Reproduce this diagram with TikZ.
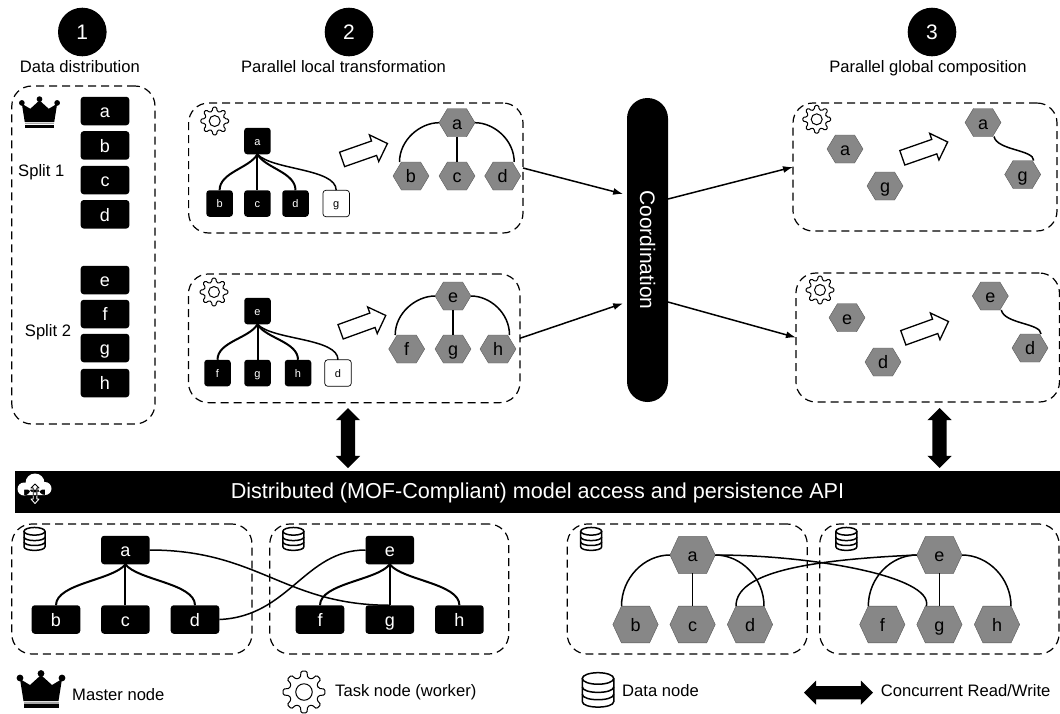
\documentclass[tikz,border=0pt]{standalone}
\usepackage{fontspec}
\setmainfont{Liberation Sans}
\usetikzlibrary{arrows.meta,calc,positioning,shapes.arrows,shapes.symbols}
\tikzset{>={Latex[length=10pt,width=7pt]}}
\tikzset{region/.style={draw,dash pattern=on 8pt off 5pt,line width=1.2pt,rounded corners=20pt,outer sep=0pt}}
\tikzset{datablock/.style={fill=black,text=white,rounded corners=3pt,minimum width=48.6pt,minimum height=28.5pt,inner sep=0pt,outer sep=0pt,text height=13.5pt,text depth=0pt,font=\fontsize{18}{20}\selectfont}}
\tikzset{miniblock/.style={fill=black,text=white,rounded corners=3pt,minimum width=26.5pt,minimum height=26.5pt,inner sep=0pt,outer sep=0pt,text height=8pt,text depth=0pt,font=\fontsize{11}{13}\selectfont}}
\tikzset{hexsmall/.style={shape=signal,signal to=west and east,signal pointer angle=118,draw=black!65,fill=black!47,minimum width=36pt,minimum height=28pt,inner sep=0pt,outer sep=0pt,text height=13pt,text depth=0pt,font=\fontsize{18}{20}\selectfont}}
\tikzset{hexlarge/.style={shape=signal,signal to=west and east,signal pointer angle=130,draw=black!65,fill=black!47,minimum width=45.3pt,minimum height=36.8pt,inner sep=0pt,outer sep=0pt,text height=13pt,text depth=0pt,font=\fontsize{18}{20}\selectfont}}
\tikzset{stepcircle/.style={circle,fill=black,text=white,minimum size=48.6pt,inner sep=0pt,font=\fontsize{21}{24}\selectfont}}
\tikzset{caption/.style={inner sep=0pt,text height=12pt,text depth=3.5pt,font=\fontsize{16.6}{20}\selectfont}}
\tikzset{hollowarrow/.style={shape=single arrow,draw,fill=white,line width=1.3pt,anchor=tail,minimum height=48pt,single arrow head extend=6.5pt,inner sep=7pt}}
\tikzset{rwarrow/.style={shape=double arrow,fill=black,inner sep=7pt,minimum height=60pt,double arrow head extend=5pt}}
\tikzset{heavyedge/.style={line width=2pt}}
\tikzset{lightedge/.style={line width=1.5pt}}
\tikzset{pics/gearicon/.style={code={
  \draw[line width=1pt,rounded corners=1.2pt,fill=white] (-14:10) \foreach \a in {0,45,...,315} { -- (\a-8:14) -- (\a+8:14) -- (\a+14:10) -- (\a+31:10) } -- cycle;
  \draw[line width=1pt] (0,0) circle (5.5);
}}}
\tikzset{pics/crownicon/.style={code={
  \fill (-21,-11) -- (-11,-5) -- (0,-15) -- (11,-5) -- (21,-11) -- (17.5,11) -- (-17.5,11) -- cycle;
  \fill (-21,-12) circle (3.4);
  \fill (0,-16.5) circle (3.4);
  \fill (21,-12) circle (3.4);
  \fill[black!35] (-17.5,11.5) rectangle (17.5,13.5);
  \fill (-17.5,14) rectangle (17.5,18);
}}}
\tikzset{pics/dbicon/.style={code={
  \draw[line width=1.5pt,fill=white] (-15,-11) -- (-15,11) .. controls (-15,18) and (15,18) .. (15,11) -- (15,-11);
  \draw[line width=1.5pt] (0,-11) ellipse [x radius=15,y radius=5.5];
  \draw[line width=1.5pt] (-15,-3) .. controls (-15,4) and (15,4) .. (15,-3);
  \draw[line width=1.5pt] (-15,4) .. controls (-15,11) and (15,11) .. (15,4);
}}}
\begin{document}
\begin{tikzpicture}[x=1pt,y=-1pt]
  \useasboundingbox (0,0) rectangle (1060,713);

  \node[stepcircle] (one) at (82.3,32) {1};
  \node[stepcircle] (two) at (349,32) {2};
  \node[stepcircle] (three) at (932,32) {3};
  \node[caption] (onetext) at (79.8,67.75) {Data distribution};
  \node[caption] (twotext) at (343.5,67.75) {Parallel local transformation};
  \node[caption] (threetext) at (928,67.75) {Parallel global composition};

  \node[region,minimum width=143.2pt,minimum height=338pt] (splitbox) at (83.4,255) {};
  \node[region,minimum width=334.4pt,minimum height=130pt] (taska) at (355.8,168) {};
  \node[region,minimum width=331.5pt,minimum height=128.7pt] (taske) at (354.2,338.3) {};
  \node[region,minimum width=264pt,minimum height=128pt] (compa) at (925,167) {};
  \node[region,minimum width=263.5pt,minimum height=129pt] (compe) at (927.7,337.5) {};
  \node[region,minimum width=240.2pt,minimum height=130pt] (stora) at (131.9,589) {};
  \node[region,minimum width=239pt,minimum height=130pt] (storb) at (389.3,589) {};
  \node[region,minimum width=240pt,minimum height=130pt] (storc) at (687.2,589) {};
  \node[region,minimum width=239.3pt,minimum height=130pt] (stord) at (939.4,589) {};

  % split lists
  \foreach \n/\y in {a/111,b/145.4,c/180,d/214.3,e/280,f/314,g/348,h/383}
    \node[datablock] (s\n) at (105,\y) {\n};
  \pic[scale=0.84] (crownsplit) at (39.5,113) {crownicon};
  \node[caption] (splitone) at (41.3,172) {Split 1};
  \node[caption] (splittwo) at (48,331.75) {Split 2};

  % first local task
  \pic (geara) at (214.7,121) {gearicon};
  \node[miniblock] (la) at (257.4,141) {a};
  \node[miniblock] (lb) at (219.6,203.5) {b};
  \node[miniblock] (lc) at (257.4,203.5) {c};
  \node[miniblock] (ld) at (295.5,203.5) {d};
  \node[miniblock,draw=black,fill=white,text=black,line width=0.7pt] (lg) at (336.2,203.5) {g};
  \draw[heavyedge] (la.south) .. controls +(-8,14) and +(0,-18) .. (lb.north);
  \draw[heavyedge] (la.south) -- (lc.north);
  \draw[heavyedge] (la.south) .. controls +(8,14) and +(0,-18) .. (ld.north);
  \draw[lightedge] (la.south) .. controls +(15,16) and +(0,-22) .. (lg.north);
  \node[hollowarrow,rotate=19.3] (arrowa) at (341.5,159.6) {};
  \node[hexsmall] (ha) at (457,122.7) {a};
  \node[hexsmall] (hb) at (411,176) {b};
  \node[hexsmall] (hc) at (457,176) {c};
  \node[hexsmall] (hd) at (502.7,176) {d};
  \draw[lightedge] (ha.west) .. controls +(-19,0) and +(0,-22) .. ([xshift=-11.5pt]hb.north);
  \draw[lightedge] (ha.south) -- (hc.north);
  \draw[lightedge] (ha.east) .. controls +(19,0) and +(0,-22) .. ([xshift=11.5pt]hd.north);

  % second local task
  \pic (geare) at (214,292) {gearicon};
  \node[miniblock] (le) at (257.5,311) {e};
  \node[miniblock] (lf) at (217.5,373) {f};
  \node[miniblock] (lgg) at (257.5,373) {g};
  \node[miniblock] (lh) at (298,373) {h};
  \node[miniblock,draw=black,fill=white,text=black,line width=0.7pt] (ldd) at (338,373) {d};
  \draw[heavyedge] (le.south) .. controls +(-8,14) and +(0,-18) .. (lf.north);
  \draw[heavyedge] (le.south) -- (lgg.north);
  \draw[heavyedge] (le.south) .. controls +(8,14) and +(0,-18) .. (lh.north);
  \draw[lightedge] (le.south) .. controls +(15,16) and +(0,-22) .. (ldd.north);
  \node[hollowarrow,rotate=19.9] (arrowe) at (340,332) {};
  \node[hexsmall] (he) at (453,296) {e};
  \node[hexsmall] (hf) at (406.7,349) {f};
  \node[hexsmall] (hg) at (453,349) {g};
  \node[hexsmall] (hh) at (498,349) {h};
  \draw[lightedge] (he.west) .. controls +(-19,0) and +(0,-22) .. ([xshift=-11.5pt]hf.north);
  \draw[lightedge] (he.south) -- (hg.north);
  \draw[lightedge] (he.east) .. controls +(19,0) and +(0,-22) .. ([xshift=11.5pt]hh.north);

  \node[fill=black,rounded corners=20.5pt,minimum width=41pt,minimum height=304pt,outer sep=0pt,text=white,font=\fontsize{21}{24}\selectfont] (coordbar) at (647.5,250) {\rotatebox{-90}{Coordination}};
  \draw[->,lightedge,shorten >=4pt] (taska.east) -- ([yshift=55pt]coordbar.west);
  \draw[->,lightedge,shorten >=4pt] (taske.east) -- ([yshift=-52pt]coordbar.west);
  \draw[->,lightedge] ([yshift=51pt]coordbar.east) -- (compa.west);
  \draw[->,lightedge] ([yshift=-52pt]coordbar.east) -- (compe.west);

  % global composition
  \pic (gearg) at (816.7,119.3) {gearicon};
  \node[hexsmall] (ca) at (845,149) {a};
  \node[hexsmall] (cg) at (885,186) {g};
  \node[hollowarrow,rotate=19.2] (arrowg) at (901.7,158) {};
  \node[hexsmall] (da) at (983,122.5) {a};
  \node[hexsmall] (dg) at (1022.7,174.5) {g};
  \draw[lightedge] ([xshift=11pt]da.south) .. controls +(3,14) and +(0,-11) .. ([xshift=11pt]dg.north);
  \pic (gearh) at (820,290) {gearicon};
  \node[hexsmall] (ce) at (847,317.7) {e};
  \node[hexsmall] (cd) at (883,362) {d};
  \node[hollowarrow,rotate=19.8] (arrowh) at (902.7,338) {};
  \node[hexsmall] (de) at (990.3,296) {e};
  \node[hexsmall] (dd) at (1030,348) {d};
  \draw[lightedge] ([xshift=11pt]de.south) .. controls +(3,14) and +(0,-11) .. ([xshift=11pt]dd.north);

  \node[rwarrow,shape border rotate=90] (rwleft) at (348,438) {};
  \node[rwarrow,shape border rotate=90] (rwright) at (939.5,438) {};

  % API bar
  \node[fill=black,minimum width=1044.7pt,minimum height=42.3pt,inner sep=0pt,outer sep=0pt] (apibar) at (537.65,492.15) {};
  \node[text=white,inner sep=0pt,text height=15pt,text depth=4pt,font=\fontsize{21.6}{24}\selectfont] (apitext) at (537.5,492.8) {Distributed (MOF-Compliant) model access and persistence API};
  \fill[white] (24,489) circle (6.5) (35,483) circle (9.5) (45,488.5) circle (6.5) (24,489.5) rectangle (45,495);
  \draw[white,line width=0.9pt,line join=round] (35,484) -- (39,488) -- (36.8,488) -- (36.8,499) -- (39,499) -- (35,503.5) -- (31,499) -- (33.2,499) -- (33.2,488) -- (31,488) -- cycle;
  \begin{scope}
    \clip (16,473) rectangle (52,495);
    \draw[black,line width=0.9pt,line join=round] (35,484) -- (39,488) -- (36.8,488) -- (36.8,499) -- (39,499) -- (35,503.5) -- (31,499) -- (33.2,499) -- (33.2,488) -- (31,488) -- cycle;
  \end{scope}

  % stored partitions, block view
  \pic[scale=0.7] (dba) at (34.5,539) {dbicon};
  \pic[scale=0.7] (dbb) at (293.4,539) {dbicon};
  \foreach \n/\x/\y in {a/125.4/550,b/56/619.5,c/125.4/619.5,d/195/619.5,e/389.8/550,f/320/619.5,g/389.8/619.5,h/459.4/619.5}
    \node[datablock] (m\n) at (\x,\y) {\n};
  \draw[heavyedge] (ma.south) .. controls +(-12,16) and +(0,-22) .. (mb.north);
  \draw[heavyedge] (ma.south) -- (mc.north);
  \draw[heavyedge] (ma.south) .. controls +(12,16) and +(0,-22) .. (md.north);
  \draw[heavyedge] (me.south) .. controls +(-12,16) and +(0,-22) .. (mf.north);
  \draw[heavyedge] (me.south) -- (mg.north);
  \draw[heavyedge] (me.south) .. controls +(12,16) and +(0,-22) .. (mh.north);
  \draw[lightedge] (ma.east) .. controls +(109,0) and +(-105,0) .. (mg.north);
  \draw[lightedge] (me.west) .. controls +(-61,0) and +(70,-3) .. (md.east);

  % stored partitions, hexagon view
  \pic[scale=0.7] (dbc) at (591.2,539) {dbicon};
  \pic[scale=0.7] (dbd) at (846.4,539) {dbicon};
  \foreach \n/\x/\y in {a/692.6/555,b/635.5/624.5,c/692.6/624.5,d/750/624.5,e/939.4/555,f/882.3/624.5,g/939.4/624.5,h/997/624.5}
    \node[hexlarge] (n\n) at (\x,\y) {\n};
  \draw[lightedge] (na.west) .. controls +(-26,0) and +(0,-28) .. ([xshift=-14pt]nb.north);
  \draw[lightedge] (na.south) -- (nc.north);
  \draw[lightedge] (na.east) .. controls +(26,0) and +(0,-28) .. ([xshift=14pt]nd.north);
  \draw[lightedge] (ne.west) .. controls +(-26,0) and +(0,-28) .. ([xshift=-14pt]nf.north);
  \draw[lightedge] (ne.south) -- (ng.north);
  \draw[lightedge] (ne.east) .. controls +(26,0) and +(0,-28) .. ([xshift=14pt]nh.north);
  \draw[lightedge] ([xshift=-14pt]nd.north) .. controls +(0,-33) and +(-113,5) .. (ne.west);
  \draw[lightedge] (na.east) .. controls +(95,0) and +(7,-30) .. ([xshift=-13pt]ng.north);

  % legend
  \pic (crownkey) at (41,690) {crownicon};
  \node[caption,anchor=west] (masterkey) at (72,696.5) {Master node};
  \pic[scale=1.5] (gearkey) at (304,692) {gearicon};
  \node[caption,anchor=west] (taskkey) at (335,692.5) {Task node (worker)};
  \pic[scale=1.05] (dbkey) at (598,690) {dbicon};
  \node[caption,anchor=west] (datakey) at (622,692.5) {Data node};
  \node[rwarrow,minimum height=69pt,inner sep=6.5pt,double arrow head extend=5.5pt] (rwkey) at (838.5,692.7) {};
  \node[caption,anchor=west] (rwtext) at (880.7,692.5) {Concurrent Read/Write};
\end{tikzpicture}
\end{document}
